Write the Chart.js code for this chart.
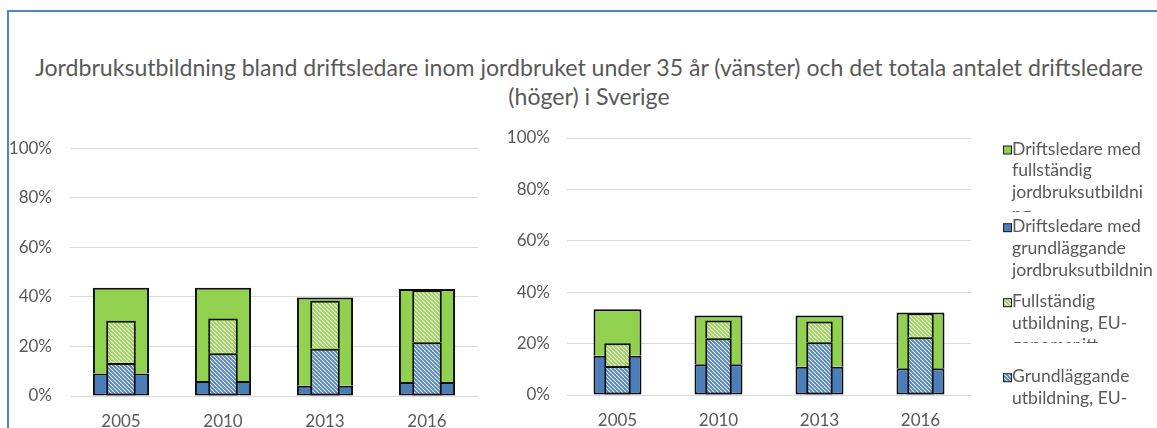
<!DOCTYPE html>
<html><head><meta charset="utf-8">
<script src="https://cdn.jsdelivr.net/npm/chart.js@4.4.1/dist/chart.umd.min.js"></script>
<style>
html,body{margin:0;padding:0;background:#fff;}
#wrap{position:relative;width:1157px;height:428px;overflow:hidden;background:#fff;font-family:Lato,'Open Sans',sans-serif;}
#frame{position:absolute;left:7px;top:10px;width:1200px;height:500px;border-left:2px solid #4f86d0;border-top:2px solid #4f86d0;}
#title{position:absolute;left:21px;width:1136px;top:53px;text-align:center;color:#595959;font-size:23.1px;line-height:29px;white-space:nowrap;}
#c1{position:absolute;left:0;top:120px;width:490px;height:308px;}
#c2{position:absolute;left:490px;top:110px;width:667px;height:318px;}
</style></head>
<body>
<div id="wrap">
<div id="frame"></div>
<div id="title">Jordbruksutbildning bland driftsledare inom jordbruket under 35 år (vänster) och det totala antalet driftsledare<br>(höger) i Sverige</div>
<canvas id="c1" width="490" height="308"></canvas>
<canvas id="c2" width="667" height="318"></canvas>
</div>
<script>
// ---- data ----
const categories = ['2005', '2010', '2013', '2016'];
const yTickValues = [0, 20, 40, 60, 80, 100];
// Left panel: driftsledare under 35 år (%)
const leftSeBasic = [9.1, 6.1, 4.1, 5.7];
const leftSeFull  = [34.6, 37.6, 35.6, 37.5];
const leftEuBasic = [13.3, 17.3, 19.1, 21.7];
const leftEuFull  = [17.1, 14.0, 19.3, 21.0];
// Right panel: samtliga driftsledare (%)
const rightSeBasic = [15.3, 12.0, 11.0, 10.4];
const rightSeFull  = [18.1, 18.9, 19.9, 21.7];
const rightEuBasic = [11.3, 22.1, 20.5, 22.5];
const rightEuFull  = [8.8, 6.9, 8.1, 9.3];
const seriesNames = [
  'Grundläggande utbildning, EU-genomsnitt',
  'Fullständig utbildning, EU-genomsnitt',
  'Driftsledare med grundläggande jordbruksutbildning',
  'Driftsledare med fullständig jordbruksutbildning'
];
const legendLines = [
  ['Driftsledare med', 'fullständig', 'jordbruksutbildni', 'ng'],
  ['Driftsledare med', 'grundläggande', 'jordbruksutbildnin', 'g'],
  ['Fullständig', 'utbildning, EU-', 'genomsnitt'],
  ['Grundläggande', 'utbildning, EU-', 'genomsnitt']
];

// ---- styles ----
const BLUE = '#4a7ebb', GREEN = '#92d050', TXT = '#595959', GRID = '#d9d9d9';
function hatch(bg, fg) {
  const c = document.createElement('canvas'); c.width = 4; c.height = 4;
  const x = c.getContext('2d');
  x.fillStyle = bg; x.fillRect(0, 0, 4, 4);
  x.strokeStyle = fg; x.lineWidth = 1.9;
  x.beginPath();
  x.moveTo(-1, -1); x.lineTo(5, 5);
  x.moveTo(-1, 3); x.lineTo(1, 5);
  x.moveTo(3, -1); x.lineTo(5, 1);
  x.stroke();
  return x.createPattern(c, 'repeat');
}
const HATCH_BLUE = hatch('#f4f7fc', '#4f81bd');
const HATCH_GREEN = hatch('#f5f9e6', '#9cd05c');
const FILLS = [HATCH_BLUE, HATCH_GREEN, BLUE, GREEN];
const BW_ALL = {top: 2, left: 2, right: 2, bottom: 2};
const BW_TOP = {top: 2, left: 2, right: 2, bottom: 0};

const legendPlugin = {
  id: 'sideLegend',
  afterDraw(chart, args, opts) {
    if (!opts.show) return;
    const ctx = chart.ctx;
    const ox = 490, oy = 110;
    const firstY = [149, 226.7, 301.7, 376.7];
    const clipB = [212, 288, 343, 407];
    const order = [3, 2, 1, 0];
    const lh = 21.7;
    ctx.save();
    ctx.font = '17.6px Lato';
    ctx.textBaseline = 'middle';
    ctx.textAlign = 'left';
    order.forEach((dsi, k) => {
      const y0 = firstY[k] - oy;
      ctx.fillStyle = '#1a1a1a';
      ctx.fillRect(1003 - ox, y0 - 3.5, 9, 9);
      ctx.fillStyle = FILLS[dsi];
      ctx.fillRect(1004 - ox, y0 - 2.5, 7, 7);
      ctx.save();
      ctx.beginPath();
      ctx.rect(1000 - ox, y0 - 12, 170, clipB[k] - firstY[k] + 12);
      ctx.clip();
      ctx.fillStyle = TXT;
      legendLines[k].forEach((t, i) => ctx.fillText(t, 1012 - ox, y0 + i * lh));
      ctx.restore();
    });
    ctx.restore();
  }
};

function panel(id, seBasic, seFull, euBasic, euFull, g) {
  const ds = (i, data, stack, bp, bw) => ({
    label: seriesNames[i], data, stack, order: i, grouped: false,
    backgroundColor: FILLS[i], borderColor: '#0d0d0d', borderWidth: bw,
    borderSkipped: false, barPercentage: bp, categoryPercentage: 1
  });
  return new Chart(document.getElementById(id), {
    type: 'bar',
    data: {
      labels: categories,
      datasets: [
        ds(0, euBasic, 'eu', g.narrow, BW_ALL),
        ds(1, euFull, 'eu', g.narrow, BW_TOP),
        ds(2, seBasic, 'se', g.wide, BW_ALL),
        ds(3, seFull, 'se', g.wide, BW_TOP)
      ]
    },
    options: {
      responsive: false, animation: false,
      layout: {padding: {top: g.top, right: g.right, left: 0, bottom: 0}},
      plugins: {legend: {display: false}, tooltip: {enabled: false}, title: {display: false},
        sideLegend: {show: !!g.legend}},
      scales: {
        x: {
          type: 'category', stacked: true, offset: true,
          grid: {display: false}, border: {display: false},
          ticks: {color: TXT, font: {family: 'Lato', size: 17}, padding: g.xPad, maxRotation: 0},
          afterFit: s => { s.height = g.xH; }
        },
        y: {
          stacked: true, min: 0, max: 100,
          afterBuildTicks: s => { s.ticks = yTickValues.map(v => ({value: v})); },
          grid: {color: GRID, lineWidth: 1, drawTicks: false}, border: {display: false},
          ticks: {color: TXT, font: {family: 'Lato', size: 17}, padding: g.yPad,
            callback: v => v + '%'},
          afterFit: s => { s.width = g.yW; }
        }
      }
    },
    plugins: [legendPlugin]
  });
}

panel('c1', leftSeBasic, leftSeFull, leftEuBasic, leftEuFull,
  {wide: 0.55, narrow: 0.29, top: 26, right: 12, xH: 32, yW: 70, yPad: 18, xPad: 7});
panel('c2', rightSeBasic, rightSeFull, rightEuBasic, rightEuFull,
  {wide: 0.475, narrow: 0.262, top: 28, right: 186, xH: 33, yW: 77, yPad: 17, xPad: 7, legend: true});
</script>
</body></html>
